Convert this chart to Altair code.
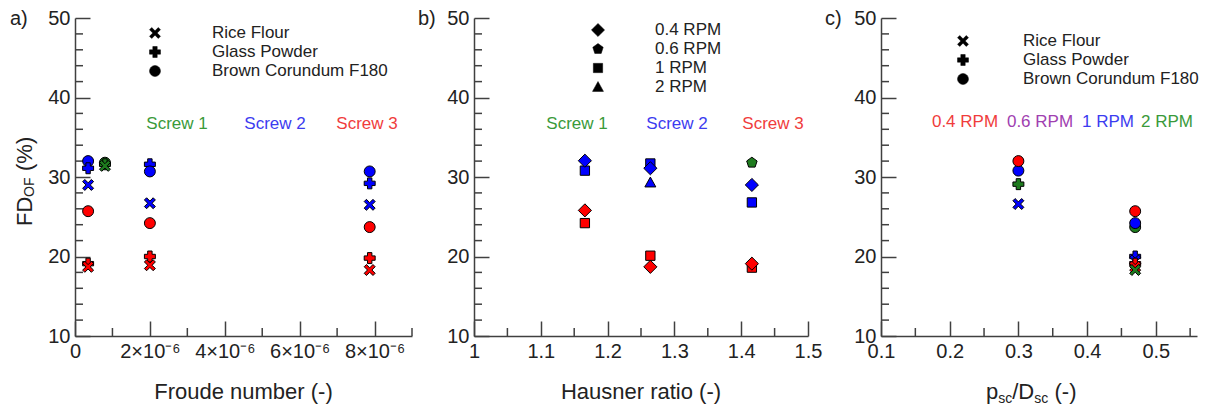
import altair as alt
import pandas as pd

FONT = "Liberation Sans"
AXC = "#404040"
TXT = "#222222"

# ---------------- data ----------------
# panel a: Froude number vs FD_OF
A_FROUDE = [0.35e-6, 0.35e-6, 0.35e-6, 0.35e-6, 0.35e-6, 0.35e-6,
            0.8e-6, 0.8e-6, 0.8e-6,
            2.0e-6, 2.0e-6, 2.0e-6, 2.0e-6, 2.0e-6, 2.0e-6,
            7.87e-6, 7.87e-6, 7.87e-6, 7.87e-6, 7.87e-6, 7.87e-6]
A_FD = [32.0, 31.1, 29.0, 25.7, 19.1, 18.7,
        31.8, 31.6, 31.4,
        31.6, 30.7, 26.7, 24.2, 20.0, 18.9,
        30.7, 29.2, 26.5, 23.7, 19.8, 18.3]
A_MAT = ["BC", "GP", "RF", "BC", "GP", "RF",
         "BC", "GP", "RF",
         "GP", "BC", "RF", "BC", "GP", "RF",
         "BC", "GP", "RF", "BC", "GP", "RF"]
A_COL = ["blue", "blue", "blue", "red", "red", "red",
         "green", "green", "green",
         "blue", "blue", "blue", "red", "red", "red",
         "blue", "blue", "blue", "red", "red", "red"]

# panel b: Hausner ratio vs FD_OF
B_HR = [1.166, 1.166, 1.166, 1.166,
        1.264, 1.264, 1.264, 1.264, 1.264,
        1.416, 1.416, 1.416, 1.416, 1.416]
B_FD = [30.8, 32.05, 24.2, 25.8,
        31.7, 31.1, 29.3, 20.1, 18.7,
        31.8, 26.8, 29.0, 18.6, 19.1]
B_RPM = ["1", "0.4", "1", "0.4",
         "1", "0.4", "2", "1", "0.4",
         "0.6", "1", "0.4", "1", "0.4"]
B_COL = ["blue", "blue", "red", "red",
         "blue", "blue", "blue", "red", "red",
         "green", "blue", "blue", "red", "red"]

# panel c: psc/Dsc vs FD_OF
C_R = [0.3, 0.3, 0.3, 0.3,
       0.47, 0.47, 0.47, 0.47, 0.47, 0.47, 0.47, 0.47]
C_FD = [30.8, 32.0, 29.1, 26.6,
        25.7, 23.7, 24.2, 20.0, 19.5, 19.1, 18.7, 18.3]
C_MAT = ["BC", "BC", "GP", "RF",
         "BC", "BC", "BC", "GP", "RF", "GP", "RF", "RF"]
C_COL = ["blue", "red", "green", "blue",
         "red", "green", "blue", "blue", "blue", "red", "red", "green"]

Y_TICKS = [10, 20, 30, 40, 50]
Y_MINOR = [12, 14, 16, 18, 22, 24, 26, 28, 32, 34, 36, 38, 42, 44, 46, 48]
A_TICKS = [0, 2e-6, 4e-6, 6e-6, 8e-6]
A_MINOR = [1e-6, 3e-6, 5e-6, 7e-6, 9e-6]
B_TICKS = [1.0, 1.1, 1.2, 1.3, 1.4, 1.5]
B_MINOR = [1.05, 1.15, 1.25, 1.35, 1.45]
C_TICKS = [0.1, 0.2, 0.3, 0.4, 0.5]
C_MINOR = [0.15, 0.25, 0.35, 0.45, 0.55]

MAT_LEGEND = ["Rice Flour", "Glass Powder", "Brown Corundum F180"]
MAT_KEYS = ["RF", "GP", "BC"]
RPM_LEGEND = ["0.4 RPM", "0.6 RPM", "1 RPM", "2 RPM"]
RPM_KEYS = ["0.4", "0.6", "1", "2"]
SCREWS = ["Screw 1", "Screw 2", "Screw 3"]

# ---------------- styles ----------------
COLORS = {"red": "#ff0000", "blue": "#0000ff", "green": "#1e7b1e"}
SHAPES = {
    "RF": "M-1,-0.6L-0.6,-1L0,-0.4L0.6,-1L1,-0.6L0.4,0L1,0.6L0.6,1L0,0.4L-0.6,1L-1,0.6L-0.4,0Z",
    "GP": "M-0.4,-1H0.4V-0.4H1V0.4H0.4V1H-0.4V0.4H-1V-0.4H-0.4Z",
    "BC": "circle",
    "0.4": "M0,-1.2L1.2,0L0,1.2L-1.2,0Z",
    "0.6": "M0,-1L0.951,-0.309L0.588,0.809L-0.588,0.809L-0.951,-0.309Z",
    "1": "M-0.85,-0.85H0.85V0.85H-0.85Z",
    "2": "M0,-1L1,0.8H-1Z",
}
VTICK = "M0,0L0,-2"   # minor tick pointing up from the x axis
HTICK = "M0,0L2,0"    # minor tick pointing right from the y axis
SCREW_COLORS = ["#3a9a3a", "#3c3cf0", "#f03c3c"]
RPM_COLORS = ["#f03c3c", "#a040b0", "#3c3cf0", "#3a9a3a"]

ONE = pd.DataFrame({"k": [0]})
W_A, W_B, W_C, H = 337, 334, 316, 318
MSIZE = 120
MAJ, MIN = 15, 8


def txt(s, x, y, size=17, color=TXT, align="left", angle=0, baseline="middle"):
    return alt.Chart(ONE).mark_text(
        text=s, fontSize=size, color=color, align=align, baseline=baseline,
        angle=angle, font=FONT
    ).encode(x=alt.value(x), y=alt.value(y))


def sym(shape, x, y, size=MSIZE):
    return alt.Chart(ONE).mark_point(
        shape=shape, filled=True, fill="black", stroke="black", strokeWidth=0.5,
        size=size, opacity=1
    ).encode(x=alt.value(x), y=alt.value(y))


def panel(xs, ys, keys, cols, xdomain, xticks, xminor, xlabel_expr):
    rows = []
    # minor inward ticks, positioned through the same scales
    for v in xminor:
        rows.append({"x": v, "y": 10, "shape": VTICK, "fillc": "transparent",
                     "st": AXC, "sz": MIN * MIN, "sw": 1.5})
    for v in Y_MINOR:
        rows.append({"x": xdomain[0], "y": v, "shape": HTICK, "fillc": "transparent",
                     "st": AXC, "sz": MIN * MIN, "sw": 1.5})
    for x, y, k, c in zip(xs, ys, keys, cols):
        rows.append({"x": x, "y": y, "shape": SHAPES[k], "fillc": COLORS[c],
                     "st": "black", "sz": MSIZE, "sw": 1.0})
    df = pd.DataFrame(rows)
    xs_ = alt.Scale(domain=xdomain, nice=False, zero=False)
    ys_ = alt.Scale(domain=[10, 50], nice=False, zero=False)
    # major ticks drawn by the axis itself, pointing inward (negative size via expression)
    xax = alt.Axis(values=xticks, ticks=True, tickSize={"expr": str(-MAJ)}, domain=True,
                   title=None, labelFlush=False, labelOverlap=False, labelPadding=MAJ + 5,
                   orient="bottom", labelExpr=xlabel_expr)
    yax = alt.Axis(values=Y_TICKS, ticks=True, tickSize={"expr": str(-MAJ)}, domain=True,
                   title=None, labelFlush=False, labelOverlap=False, labelPadding=MAJ + 5,
                   orient="left", format="d")
    pts = alt.Chart(df).mark_point(filled=True, opacity=1).encode(
        x=alt.X("x:Q", scale=xs_, axis=xax),
        y=alt.Y("y:Q", scale=ys_, axis=yax),
        shape=alt.Shape("shape:N", scale=None),
        fill=alt.Fill("fillc:N", scale=None),
        stroke=alt.Stroke("st:N", scale=None),
        size=alt.Size("sz:Q", scale=None),
        strokeWidth=alt.StrokeWidth("sw:Q", scale=None),
    )
    return [pts]


def finish(layers, w):
    return alt.layer(*layers).properties(width=w, height=H)


# ---------------- panel a ----------------
la = panel(A_FROUDE, A_FD, A_MAT, A_COL, [0, 9e-6], A_TICKS, A_MINOR,
           "datum.value == 0 ? '0' : format(datum.value * 1e6, 'd') + '×10⁻⁶'")
la += [txt("a)", -65, 1, size=20)]
la += [txt("FD", -50, 208, size=22, angle=270),
       txt("OF", -45, 179, size=14, angle=270),
       txt("(%)", -50, 153, size=22, angle=270)]
for i, (lab, key) in enumerate(zip(MAT_LEGEND, MAT_KEYS)):
    la += [sym(SHAPES[key], 80, 15 + 19 * i), txt(lab, 137, 15 + 19 * i)]
for lab, cx, col in zip(SCREWS, [102, 200, 292], SCREW_COLORS):
    la += [txt(lab, cx, 106, color=col, align="center")]
la += [txt("Froude number (-)", W_A / 2, 381, size=22, align="center", baseline="alphabetic")]
pa = finish(la, W_A)

# ---------------- panel b ----------------
lb = panel(B_HR, B_FD, B_RPM, B_COL, [1.0, 1.5], B_TICKS, B_MINOR,
           "format(datum.value, '.1~f')")
lb += [txt("b)", -56, 1, size=20)]
for i, (lab, key) in enumerate(zip(RPM_LEGEND, RPM_KEYS)):
    lb += [sym(SHAPES[key], 124, 12 + 19 * i), txt(lab, 181, 12 + 19 * i)]
for lab, cx, col in zip(SCREWS, [103, 203, 299], SCREW_COLORS):
    lb += [txt(lab, cx, 106, color=col, align="center")]
lb += [txt("Hausner ratio (-)", W_B / 2, 381, size=22, align="center", baseline="alphabetic")]
pb = finish(lb, W_B)

# ---------------- panel c ----------------
lc = panel(C_R, C_FD, C_MAT, C_COL, [0.1, 0.56], C_TICKS, C_MINOR,
           "format(datum.value, '.1f')")
lc += [txt("c)", -56, 1, size=20)]
for i, (lab, key) in enumerate(zip(MAT_LEGEND, MAT_KEYS)):
    lc += [sym(SHAPES[key], 82, 23 + 19 * i), txt(lab, 142, 23 + 19 * i)]
for lab, cx, col in zip(RPM_LEGEND, [84, 159, 227, 286], RPM_COLORS):
    lc += [txt(lab, cx, 104, color=col, align="center")]
x0 = 105
lc += [txt("p", x0, 381, size=22, baseline="alphabetic"),
       txt("sc", x0 + 12.2, 385, size=14, baseline="alphabetic"),
       txt("/D", x0 + 26.2, 381, size=22, baseline="alphabetic"),
       txt("sc", x0 + 48.2, 385, size=14, baseline="alphabetic"),
       txt("(-)", x0 + 68.5, 381, size=22, baseline="alphabetic")]
pc = finish(lc, W_C)

chart = alt.hconcat(pa, pb, pc, spacing=3).resolve_scale(
    x="independent", y="independent"
).properties(
    padding={"left": 2, "top": 0, "right": 0, "bottom": 0}
).configure_view(stroke=None).configure_axis(
    labelFont=FONT, labelFontSize=20, labelColor=TXT, domainColor=AXC,
    tickColor=AXC, domainWidth=1.5, tickWidth=1.5, grid=False
)

chart.save("out.html", embed_options={"renderer": "svg", "actions": False})
